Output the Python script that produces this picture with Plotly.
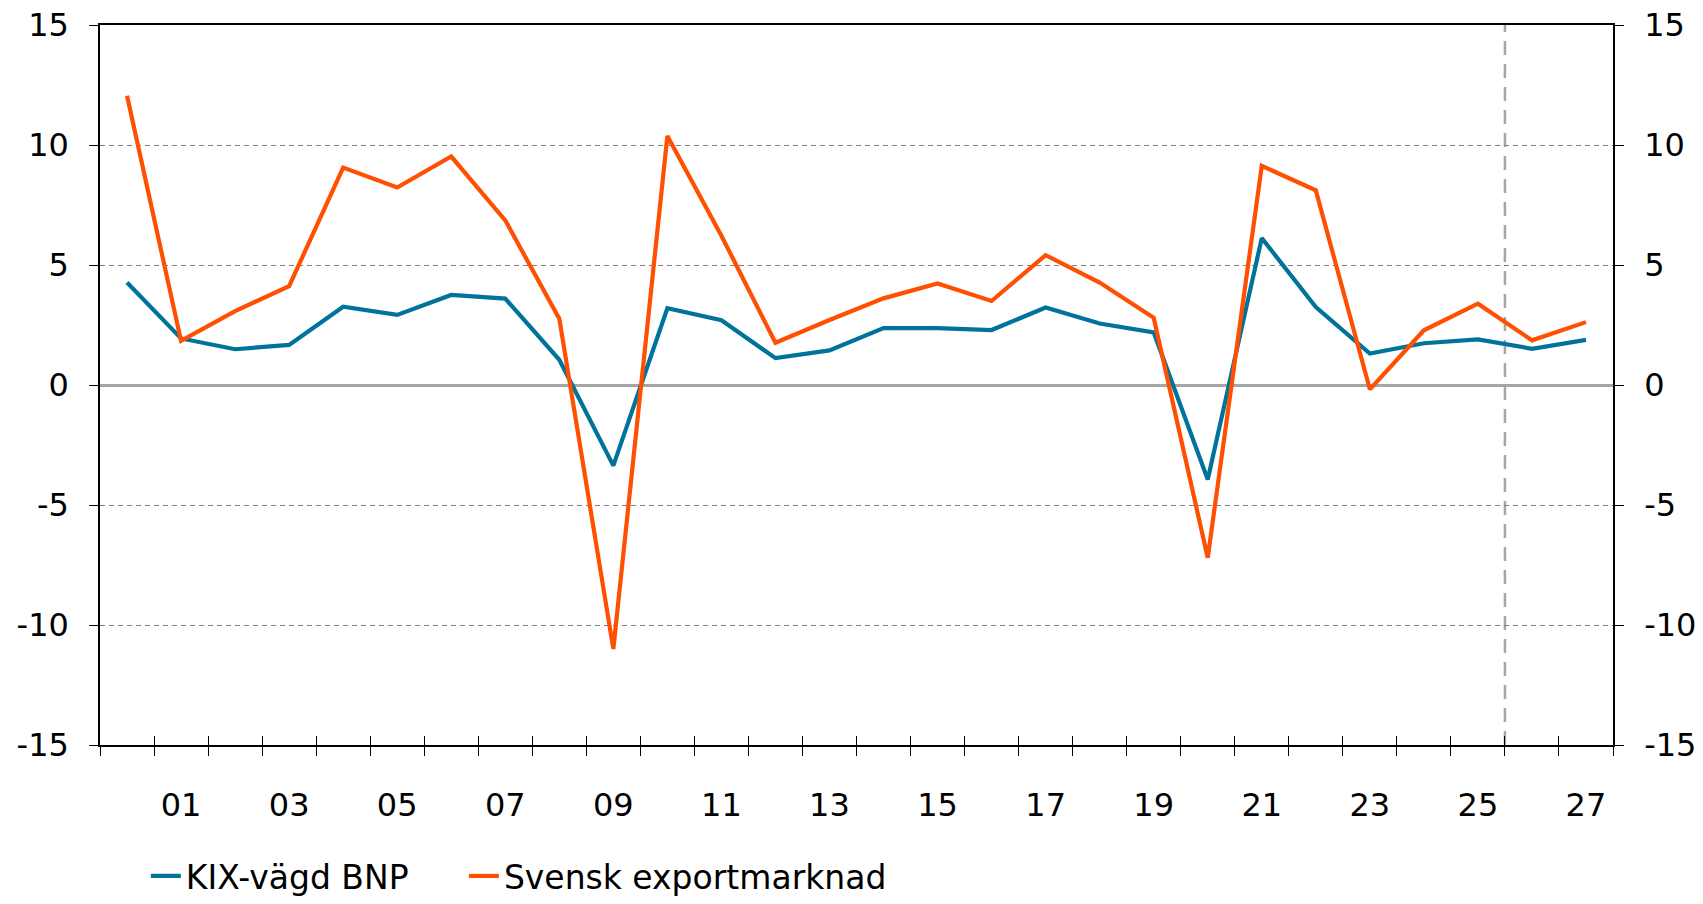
import plotly.graph_objects as go

years = list(range(2000, 2028))
kix_bnp = [4.27, 1.94, 1.49, 1.67, 3.26, 2.92, 3.75, 3.6, 1.05, -3.36,
           3.2, 2.7, 1.12, 1.44, 2.37, 2.37, 2.29, 3.23, 2.56, 2.19,
           -3.94, 6.12, 3.25, 1.31, 1.74, 1.9, 1.51, 1.88]
export_mkt = [12.05, 1.84, 3.08, 4.12, 9.06, 8.23, 9.52, 6.86, 2.76, -11.0,
              10.38, 6.22, 1.76, 2.71, 3.61, 4.23, 3.5, 5.41, 4.27, 2.8,
              -7.2, 9.13, 8.11, -0.18, 2.28, 3.39, 1.86, 2.62]
odd_years = [y for y in years if y % 2 == 1]
tick_text = ["%02d" % (y % 100) for y in odd_years]
y_ticks = [-15, -10, -5, 0, 5, 10, 15]
y_text = [str(v) for v in y_ticks]
forecast_start = 2025.5

BLUE = "#00739A"
ORANGE = "#FF4F00"
FONT = "DejaVu Sans"

fig = go.Figure()
fig.add_trace(go.Scatter(x=years, y=kix_bnp, mode="lines", name="KIX-vägd BNP",
                         line=dict(color=BLUE, width=4.2), xaxis="x", yaxis="y",
                         legend="legend"))
fig.add_trace(go.Scatter(x=years, y=export_mkt, mode="lines", name="Svensk exportmarknad",
                         line=dict(color=ORANGE, width=4.2), xaxis="x2", yaxis="y2",
                         legend="legend2"))

xr = [1999.5, 2027.5]
half_ticks = [y - 0.5 for y in years] + [2027.5]
legend_style = dict(orientation="h", xanchor="left", y=-0.2208, yanchor="bottom",
                    font=dict(size=33), itemwidth=30, bgcolor="rgba(0,0,0,0)")

fig.update_layout(
    width=1703, height=904,
    margin=dict(l=100, r=90, t=25, b=159, autoexpand=False),
    paper_bgcolor="white", plot_bgcolor="white",
    font=dict(family=FONT, size=32, color="black"),
    showlegend=True,
    legend=dict(x=0.0303, **legend_style),
    legend2=dict(x=0.2405, **legend_style),
    xaxis=dict(range=xr, tickmode="array", tickvals=odd_years, ticktext=tick_text,
               ticks="", showgrid=False, zeroline=False, automargin=False,
               showline=True, linecolor="black", linewidth=1.5, mirror=True,
               ticklabelstandoff=31, ticklabeloverflow="allow",
               minor=dict(tickmode="array", tickvals=half_ticks, ticks="outside",
                          ticklen=9, tickcolor="black", tickwidth=1.3, showgrid=False)),
    xaxis2=dict(range=xr, overlaying="x", tickmode="array", tickvals=half_ticks,
                ticks="inside", ticklen=9, tickcolor="black", tickwidth=1.3, automargin=False,
                showticklabels=False, showgrid=False, zeroline=False, showline=False),
    yaxis=dict(range=[-15, 15], tickmode="array", tickvals=y_ticks, ticktext=y_text,
               ticks="outside", ticklen=9, tickcolor="black", tickwidth=1.3,
               showline=True, linecolor="black", linewidth=1.5, automargin=False,
               showgrid=True, gridcolor="#7f7f7f", griddash="5px,4px", gridwidth=1.3,
               zeroline=True, zerolinecolor="#a6a6a6", zerolinewidth=2.5,
               ticklabelstandoff=14, ticklabeloverflow="allow"),
    yaxis2=dict(range=[-15, 15], overlaying="y", side="right",
                tickmode="array", tickvals=y_ticks, ticktext=y_text,
                ticks="outside", ticklen=9, tickcolor="black", tickwidth=1.3,
                showline=True, linecolor="black", linewidth=1.5, automargin=False,
                showgrid=False, zeroline=False, ticklabelstandoff=14,
                ticklabeloverflow="allow"),
)

fig.add_shape(type="line", x0=forecast_start, x1=forecast_start, y0=0, y1=1,
              xref="x", yref="paper", layer="below",
              line=dict(color="#a6a6a6", width=2.5, dash="14px,9px"))

fig.write_html("out.html", config={"displayModeBar": False},
               post_script="document.body.style.margin='0';document.body.style.overflow='hidden';")
